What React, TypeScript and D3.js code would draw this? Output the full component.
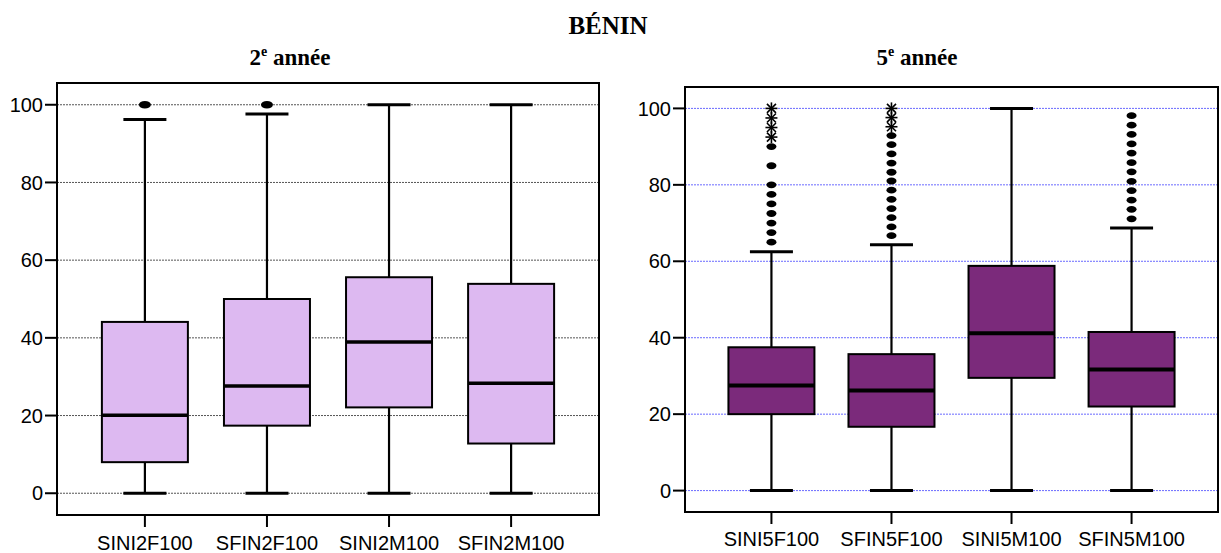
import React from "react";
import * as d3 from "d3";

// ---------- Data ----------
const categories2 = ["SINI2F100", "SFIN2F100", "SINI2M100", "SFIN2M100"];
const low2 = [0, 0, 0, 0];
const q1_2 = [8.0, 17.4, 22.1, 12.8];
const median2 = [20.1, 27.6, 38.9, 28.3];
const q3_2 = [44.1, 50.0, 55.6, 53.9];
const high2 = [96.2, 97.6, 100, 100];
const outliers2 = [[100], [100], [], []];
const extremes2: number[][] = [[], [], [], []];

const categories5 = ["SINI5F100", "SFIN5F100", "SINI5M100", "SFIN5M100"];
const low5 = [0, 0, 0, 0];
const q1_5 = [20.0, 16.7, 29.5, 22.0];
const median5 = [27.5, 26.2, 41.2, 31.7];
const q3_5 = [37.5, 35.7, 58.8, 41.5];
const high5 = [62.5, 64.3, 100, 68.7];
const outliers5 = [
  [65, 67.5, 70, 72.5, 75, 77.5, 80, 85, 90],
  [66.7, 69.0, 71.4, 73.8, 76.2, 78.6, 81.0, 83.3, 85.7, 88.1, 90.5, 92.9],
  [],
  [71.1, 73.6, 76.0, 78.5, 80.9, 83.4, 85.8, 88.3, 90.7, 93.2, 95.6, 98.1],
];
const extremes5 = [[92.5, 95, 97.5, 100], [95.2, 97.6, 100], [], []];

const yTicks = [0, 20, 40, 60, 80, 100];

type PanelProps = {
  x0: number; x1: number; y0: number; y1: number;
  cats: string[]; lo: number[]; q1: number[]; med: number[]; q3: number[]; hi: number[];
  outl: number[][]; extr: number[][];
  fill: string; gridColor: string; medianWidth: number; rx: number; ry: number;
  title: string; titleX: number; labelY: number;
};

function Panel(p: PanelProps) {
  const y = d3.scaleLinear().domain([-5.6, 105.6]).range([p.y1, p.y0]);
  const x = d3.scalePoint<string>().domain(p.cats).range([p.x0, p.x1]).padding(0.72);
  const boxW = 86;
  const capW = 43;
  const font = "'Liberation Sans', Arial, sans-serif";
  return (
    <g>
      <text x={p.titleX} y={65} textAnchor="middle"
        style={{ fontFamily: "'Liberation Serif', 'Times New Roman', serif", fontWeight: "bold", fontSize: 23 }}>
        {p.title}<tspan dy={-9} fontSize={14}>e</tspan><tspan dy={9}> année</tspan>
      </text>
      {/* grid */}
      {yTicks.map((t) => (
        <line key={"g" + t} x1={p.x0} x2={p.x1} y1={y(t)} y2={y(t)}
          stroke={p.gridColor} strokeWidth={1} strokeDasharray="2,1" />
      ))}
      {/* boxes */}
      {p.cats.map((c, i) => {
        const cx = x(c)!;
        return (
          <g key={c}>
            <line x1={cx} x2={cx} y1={y(p.lo[i])} y2={y(p.q1[i])} stroke="#000" strokeWidth={2.2} />
            <line x1={cx} x2={cx} y1={y(p.q3[i])} y2={y(p.hi[i])} stroke="#000" strokeWidth={2.2} />
            <line x1={cx - capW / 2} x2={cx + capW / 2} y1={y(p.lo[i])} y2={y(p.lo[i])} stroke="#000" strokeWidth={3} />
            <line x1={cx - capW / 2} x2={cx + capW / 2} y1={y(p.hi[i])} y2={y(p.hi[i])} stroke="#000" strokeWidth={3} />
            <rect x={cx - boxW / 2} y={y(p.q3[i])} width={boxW} height={y(p.q1[i]) - y(p.q3[i])}
              fill={p.fill} stroke="#000" strokeWidth={2} />
            <line x1={cx - boxW / 2} x2={cx + boxW / 2} y1={y(p.med[i])} y2={y(p.med[i])} stroke="#000" strokeWidth={p.medianWidth} />
            {p.outl[i].map((v, j) => (
              <ellipse key={"o" + j} cx={cx} cy={y(v)} rx={p.rx} ry={p.ry} fill="#000" />
            ))}
            {p.extr[i].map((v, j) => {
              const yy = y(v);
              return (
                <g key={"e" + j} stroke="#000" strokeWidth={1.6}>
                  <line x1={cx - 6} x2={cx + 6} y1={yy} y2={yy} />
                  <line x1={cx} x2={cx} y1={yy - 6} y2={yy + 6} />
                  <line x1={cx - 4.5} x2={cx + 4.5} y1={yy - 4.5} y2={yy + 4.5} />
                  <line x1={cx - 4.5} x2={cx + 4.5} y1={yy + 4.5} y2={yy - 4.5} />
                </g>
              );
            })}
          </g>
        );
      })}
      {/* frame */}
      <rect x={p.x0} y={p.y0} width={p.x1 - p.x0} height={p.y1 - p.y0} fill="none" stroke="#000" strokeWidth={2} />
      {/* y axis ticks */}
      {yTicks.map((t) => (
        <g key={"t" + t}>
          <line x1={p.x0 - 12} x2={p.x0} y1={y(t)} y2={y(t)} stroke="#000" strokeWidth={2} />
          <text x={p.x0 - 14} y={y(t)} dy="0.36em" textAnchor="end" style={{ fontFamily: font, fontSize: 20 }}>{t}</text>
        </g>
      ))}
      {/* x ticks */}
      {p.cats.map((c) => (
        <g key={"x" + c}>
          <line x1={x(c)!} x2={x(c)!} y1={p.y1} y2={p.y1 + 12} stroke="#000" strokeWidth={2} />
          <text x={x(c)!} y={p.labelY} textAnchor="middle" style={{ fontFamily: font, fontSize: 20 }}>{c}</text>
        </g>
      ))}
    </g>
  );
}

export default function App() {
  return (
    <svg width={1221} height={553} style={{ position: "absolute", left: 0, top: 0, background: "#fff" }}>
      <text x={608} y={34} textAnchor="middle"
        style={{ fontFamily: "'Liberation Serif', 'Times New Roman', serif", fontWeight: "bold", fontSize: 25 }}>BÉNIN</text>
      <Panel x0={57} x1={599} y0={83} y1={515} cats={categories2} lo={low2} q1={q1_2} med={median2} q3={q3_2} hi={high2}
        outl={outliers2} extr={extremes2} fill="#DDB9F1" gridColor="#555" medianWidth={3.5} rx={6} ry={3.8}
        title="2" titleX={290} labelY={550} />
      <Panel x0={685} x1={1218} y0={87} y1={512} cats={categories5} lo={low5} q1={q1_5} med={median5} q3={q3_5} hi={high5}
        outl={outliers5} extr={extremes5} fill="#7B2A7B" gridColor="#6a6aff" medianWidth={4} rx={5} ry={3.4}
        title="5" titleX={917} labelY={546} />
    </svg>
  );
}
